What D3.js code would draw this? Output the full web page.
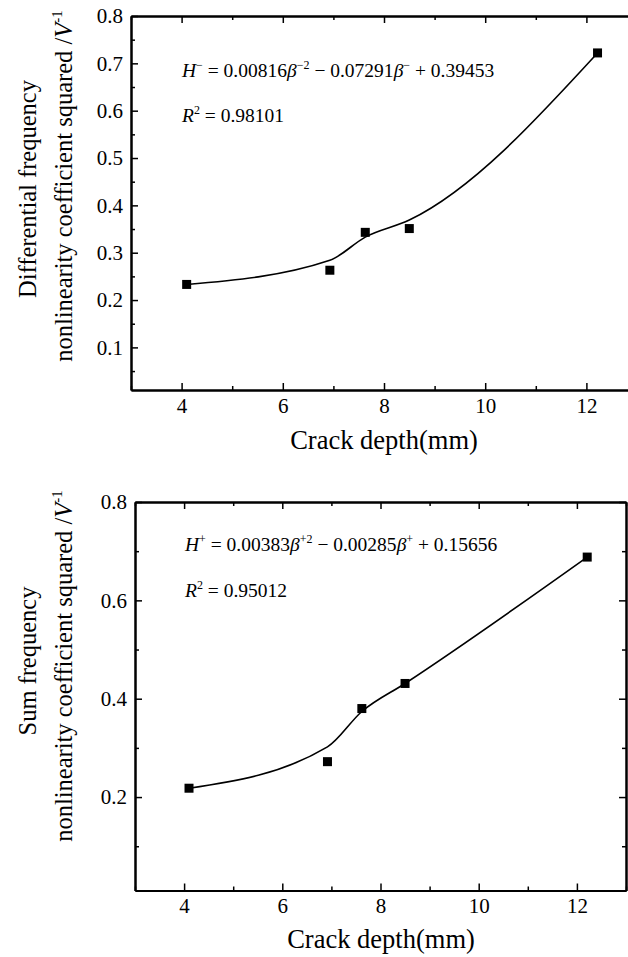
<!DOCTYPE html>
<html>
<head>
<meta charset="utf-8">
<script src="https://cdn.jsdelivr.net/npm/d3@7/dist/d3.min.js"></script>
<style>
  html, body { margin: 0; padding: 0; background: #fff; }
  svg { display: block; }
  text { font-family: "Liberation Serif", "Times New Roman", serif; fill: #000; }
</style>
</head>
<body>
<svg id="chart" width="628" height="957"></svg>
<script>
// ---------------- data ----------------
const xTickValues = [4, 6, 8, 10, 12];
const xMinorTicks = [3, 5, 7, 9, 11, 13];

const diffDepth   = [4.1, 6.93, 7.63, 8.5, 12.22];
const diffValues  = [0.233, 0.263, 0.343, 0.351, 0.722];
const diffFit     = [0.233, 0.284, 0.333, 0.369, 0.722];
const diffYTicks  = [0.1, 0.2, 0.3, 0.4, 0.5, 0.6, 0.7, 0.8];
const diffYMinor  = [0.05, 0.15, 0.25, 0.35, 0.45, 0.55, 0.65, 0.75];

const sumDepth    = [4.1, 6.92, 7.62, 8.5, 12.21];
const sumValues   = [0.218, 0.272, 0.380, 0.431, 0.688];
const sumFit      = [0.218, 0.302, 0.374, 0.431, 0.688];
const sumYTicks   = [0.2, 0.4, 0.6, 0.8];
const sumYMinor   = [0.1, 0.3, 0.5, 0.7];

const xLabel = "Crack depth(mm)";

// ---------------- drawing ----------------
const svg = d3.select("#chart");
const FONT = '"Liberation Serif", "Times New Roman", serif';

function panel(cfg) {
  const x = d3.scaleLinear().domain([3, 13]).range([cfg.left, cfg.right]);
  const y = d3.scaleLinear().domain([0.01, 0.8]).range([cfg.bottom, cfg.top]);
  const g = svg.append("g");

  function styleAxis(sel, labels) {
    sel.attr("font-family", FONT);
    sel.selectAll("path.domain").attr("stroke", "#000").attr("stroke-width", 2);
    sel.selectAll(".tick line").attr("stroke", "#000").attr("stroke-width", 1.5);
    sel.selectAll(".tick text").attr("font-family", FONT).attr("font-size", 21).attr("fill", "#000");
    if (!labels) sel.selectAll(".tick text").remove();
  }
  const fmtY = d3.format(".1f");

  // bottom
  g.append("g").attr("transform", `translate(0,${cfg.bottom})`)
    .call(d3.axisBottom(x).tickValues(xTickValues).tickSize(-7).tickSizeOuter(0).tickPadding(8).tickFormat(d3.format("d")))
    .call(s => styleAxis(s, true));
  g.append("g").attr("transform", `translate(0,${cfg.bottom})`)
    .call(d3.axisBottom(x).tickValues(xMinorTicks).tickSize(-4).tickSizeOuter(0))
    .call(s => styleAxis(s, false));
  // top
  g.append("g").attr("transform", `translate(0,${cfg.top})`)
    .call(d3.axisTop(x).tickValues(xTickValues).tickSize(-7).tickSizeOuter(0))
    .call(s => styleAxis(s, false));
  g.append("g").attr("transform", `translate(0,${cfg.top})`)
    .call(d3.axisTop(x).tickValues(xMinorTicks).tickSize(-4).tickSizeOuter(0))
    .call(s => styleAxis(s, false));
  // left
  g.append("g").attr("transform", `translate(${cfg.left},0)`)
    .call(d3.axisLeft(y).tickValues(cfg.yTicks).tickSize(-7).tickSizeOuter(0).tickPadding(8).tickFormat(fmtY))
    .call(s => styleAxis(s, true));
  g.append("g").attr("transform", `translate(${cfg.left},0)`)
    .call(d3.axisLeft(y).tickValues(cfg.yMinor).tickSize(-4).tickSizeOuter(0))
    .call(s => styleAxis(s, false));
  // right
  g.append("g").attr("transform", `translate(${cfg.right},0)`)
    .call(d3.axisRight(y).tickValues(cfg.yTicks).tickSize(-7).tickSizeOuter(0))
    .call(s => styleAxis(s, false));
  g.append("g").attr("transform", `translate(${cfg.right},0)`)
    .call(d3.axisRight(y).tickValues(cfg.yMinor).tickSize(-4).tickSizeOuter(0))
    .call(s => styleAxis(s, false));

  // fitted curve
  const fitPts = cfg.depth.map((d, i) => [d, cfg.fit[i]]);
  g.append("path")
    .attr("d", d3.line().x(d => x(d[0])).y(d => y(d[1])).curve(d3.curveMonotoneX)(fitPts))
    .attr("fill", "none").attr("stroke", "#000").attr("stroke-width", 1.6);

  // markers
  const ms = 9;
  g.selectAll("rect.pt").data(cfg.depth.map((d, i) => [d, cfg.values[i]])).enter()
    .append("rect").attr("class", "pt")
    .attr("x", d => x(d[0]) - ms / 2).attr("y", d => y(d[1]) - ms / 2)
    .attr("width", ms).attr("height", ms).attr("fill", "#000");

  // x label
  g.append("text").attr("x", cfg.xLabelX).attr("y", cfg.xLabelY)
    .attr("text-anchor", "middle").attr("font-size", 26.5).text(xLabel);

  // y label (two lines)
  g.append("text").attr("transform", `translate(${cfg.yLabelX1},${cfg.yLabelCY1}) rotate(-90)`)
    .attr("text-anchor", "middle").attr("font-size", 24.5).text(cfg.yLine1);
  const yl2 = g.append("text").attr("transform", `translate(${cfg.yLabelX2},${cfg.yLabelCY2}) rotate(-90)`)
    .attr("text-anchor", "middle").attr("font-size", 24.5);
  yl2.append("tspan").text("nonlinearity coefficient squared /");
  yl2.append("tspan").attr("font-style", "italic").text("V");
  yl2.append("tspan").attr("font-size", 15).attr("dy", -10).text("-1");

  // equation
  const eq = g.append("text").attr("x", cfg.eqX).attr("y", cfg.eqY).attr("font-size", 19.5);
  const sign = cfg.sign;
  eq.append("tspan").attr("font-style", "italic").text("H");
  eq.append("tspan").attr("font-size", 12).attr("dy", -8).text(sign);
  eq.append("tspan").attr("dy", 8).text(" = " + cfg.coef[0]);
  eq.append("tspan").attr("font-style", "italic").text("β");
  eq.append("tspan").attr("font-size", 12).attr("dy", -8).text(sign + "2");
  eq.append("tspan").attr("dy", 8).text(" − " + cfg.coef[1]);
  eq.append("tspan").attr("font-style", "italic").text("β");
  eq.append("tspan").attr("font-size", 12).attr("dy", -8).text(sign);
  eq.append("tspan").attr("dy", 8).text(" + " + cfg.coef[2]);

  const r2 = g.append("text").attr("x", cfg.eqX).attr("y", cfg.r2Y).attr("font-size", 19.5);
  r2.append("tspan").attr("font-style", "italic").text("R");
  r2.append("tspan").attr("font-size", 12).attr("dy", -8).text("2");
  r2.append("tspan").attr("dy", 8).text(" = " + cfg.r2);
}

panel({
  left: 131, right: 637, top: 16, bottom: 390,
  yTicks: diffYTicks, yMinor: diffYMinor,
  depth: diffDepth, values: diffValues, fit: diffFit,
  xLabelX: 384, xLabelY: 449,
  yLine1: "Differential frequency",
  yLabelX1: 36, yLabelCY1: 189, yLabelX2: 72, yLabelCY2: 186,
  eqX: 182, eqY: 77, r2Y: 122, sign: "−",
  coef: ["0.00816", "0.07291", "0.39453"], r2: "0.98101"
});

panel({
  left: 135, right: 626, top: 502, bottom: 890.5,
  yTicks: sumYTicks, yMinor: sumYMinor,
  depth: sumDepth, values: sumValues, fit: sumFit,
  xLabelX: 381, xLabelY: 948,
  yLine1: "Sum frequency",
  yLabelX1: 36, yLabelCY1: 661, yLabelX2: 72, yLabelCY2: 666,
  eqX: 185, eqY: 551, r2Y: 597, sign: "+",
  coef: ["0.00383", "0.00285", "0.15656"], r2: "0.95012"
});
</script>
</body>
</html>
